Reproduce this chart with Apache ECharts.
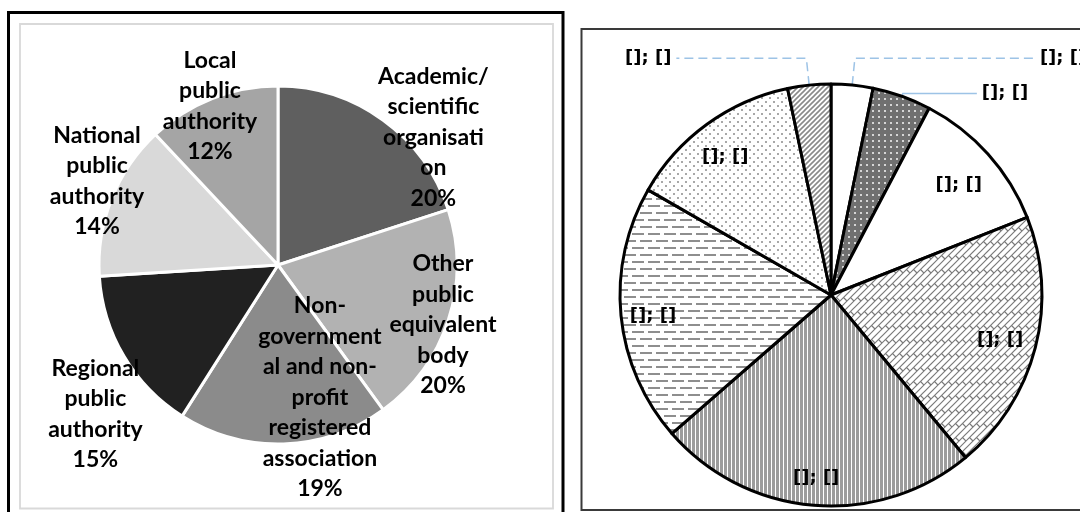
<!DOCTYPE html>
<html><head><meta charset="utf-8">
<script src="https://cdn.jsdelivr.net/npm/echarts@6/dist/echarts.min.js"></script>
<style>html,body{margin:0;padding:0;background:#fff}#c{width:1080px;height:512px}</style>
</head><body><div id="c"></div>
<script>
// ---- data ----
const leftCategories = [
  'Academic/\nscientific\norganisati\non',
  'Other\npublic\nequivalent\nbody',
  'Non-\ngovernment\nal and non-\nprofit\nregistered\nassociation',
  'Regional\npublic\nauthority',
  'National\npublic\nauthority',
  'Local\npublic\nauthority'
];
const leftValues = [20, 20, 19, 15, 14, 12];

const rightLabels = ['[]; []', '[]; []', '[]; []', '[]; []', '[]; []', '[]; []', '[]; []', '[]; []'];
const rightValues = [3.2, 4.5, 11.3, 20, 24.6, 19.7, 13.4, 3.3];

// ---- styles ----
const leftColors = ['#5f5f5f', '#b2b2b2', '#8b8b8b', '#212121', '#d9d9d9', '#a5a5a5'];
const leftNudge = [[101, -53], [77, 31], [39, 40], [-103, 102], [-95, -50], [-34, -73]];
const rightNudge = [[0, 0], [0, 0], [47, -37], [64, 18], [-6, 75], [-70, 11], [-42, -50], [0, 0]];

function tile(w, h, draw) {
  const c = document.createElement('canvas');
  c.width = w; c.height = h;
  const g = c.getContext('2d');
  g.fillStyle = '#ffffff'; g.fillRect(0, 0, w, h);
  draw(g);
  return { image: c, repeat: 'repeat' };
}
function line(g, pts, color, width) {
  g.strokeStyle = color; g.lineWidth = width; g.beginPath();
  for (let i = 0; i < pts.length; i += 4) { g.moveTo(pts[i], pts[i + 1]); g.lineTo(pts[i + 2], pts[i + 3]); }
  g.stroke();
}
const darkDots = tile(6, 6, g => { g.fillStyle = '#707070'; g.fillRect(0, 0, 6, 6); g.fillStyle = '#d6d6d6'; g.fillRect(2, 2, 2, 2); });
const brick = tile(14, 14, g => {
  line(g, [-1, 15, 15, -1, -1, 8, 8, -1, 6, 15, 15, 6, -1, 1, 1, -1, 13, 15, 15, 13], '#7a7a7a', 1.2);
  line(g, [3.5, 3.5, 7, 7, 10.5, 3.5, 14, 7, -3.5, 10.5, 0, 14], '#7a7a7a', 1.2);
});
const vStripes = tile(4, 4, g => { g.fillStyle = '#9c9c9c'; g.fillRect(0, 0, 3, 4); });
const hDashes = tile(16, 14, g => { g.fillStyle = '#8e8e8e'; g.fillRect(0, 2, 12, 2); g.fillRect(8, 9, 8, 2); g.fillRect(0, 9, 4, 2); });
const lightDots = tile(8, 8, g => { g.fillStyle = '#a8a8a8'; g.fillRect(1, 1, 2, 2); g.fillRect(5, 5, 2, 2); });
const hatch = tile(5, 5, g => { line(g, [-1, 6, 6, -1, -1, 1, 1, -1, 4, 6, 6, 4], '#8a8a8a', 1.6); });
const rightFills = ['#ffffff', darkDots, '#ffffff', brick, vStripes, hDashes, lightDots, hatch];

// outside-label settings for the small slices (index -> [length, length2, dashed])
const rightOutside = { 0: [27, 180, true], 1: [3, 74, false], 7: [27, 130, true] };

const leftData = leftCategories.map((n, i) => ({ name: n, value: leftValues[i], itemStyle: { color: leftColors[i] } }));
const rightData = rightLabels.map((n, i) => {
  const d = { name: n, value: rightValues[i], itemStyle: { color: rightFills[i] } };
  if (rightOutside[i]) {
    const o = rightOutside[i];
    d.label = { position: 'outside' };
    d.labelLine = { show: true, length: o[0], length2: o[1], smooth: false,
      lineStyle: { color: '#9dc3e6', width: 1.5, type: o[2] ? [9, 5] : 'solid' } };
  }
  return d;
});

const chart = echarts.init(document.getElementById('c'), null, { renderer: 'canvas' });
chart.setOption({
  animation: false,
  backgroundColor: '#ffffff',
  graphic: [
    { type: 'rect', shape: { x: 8.5, y: 12.5, width: 554.5, height: 520 }, style: { fill: 'none', stroke: '#000', lineWidth: 3 }, z: 0 },
    { type: 'rect', shape: { x: 20, y: 24, width: 533, height: 484.5 }, style: { fill: 'none', stroke: '#d9d9d9', lineWidth: 1.8 }, z: 0 },
    { type: 'rect', shape: { x: 581.5, y: 29, width: 600, height: 481 }, style: { fill: 'none', stroke: '#3a3a3a', lineWidth: 2 }, z: 0 }
  ],
  series: [
    {
      type: 'pie',
      center: [278, 265],
      radius: 179,
      startAngle: 90,
      clockwise: true,
      avoidLabelOverlap: false,
      data: leftData,
      itemStyle: { borderColor: '#ffffff', borderWidth: 3 },
      label: {
        show: true, position: 'inside',
        formatter: p => p.name + '\n' + Math.round(p.percent) + '%',
        fontFamily: 'Lato', fontWeight: 'bold', fontSize: 23, lineHeight: 30.5, color: '#000', align: 'center'
      },
      labelLine: { show: false },
      labelLayout: p => ({ dx: leftNudge[p.dataIndex][0], dy: leftNudge[p.dataIndex][1] }),
      emphasis: { disabled: true }
    },
    {
      type: 'pie',
      center: [831, 295],
      radius: 211,
      startAngle: 90,
      clockwise: true,
      avoidLabelOverlap: false,
      data: rightData,
      itemStyle: { borderColor: '#000000', borderWidth: 3 },
      label: {
        show: true, position: 'inside',
        formatter: p => p.name,
        fontFamily: 'DejaVu Sans', fontWeight: 'bold', fontSize: 18, color: '#000'
      },
      labelLine: { show: false },
      labelLayout: p => (rightOutside[p.dataIndex] ? {} : { dx: rightNudge[p.dataIndex][0], dy: rightNudge[p.dataIndex][1] }),
      emphasis: { disabled: true }
    }
  ]
});
</script>
</body></html>
